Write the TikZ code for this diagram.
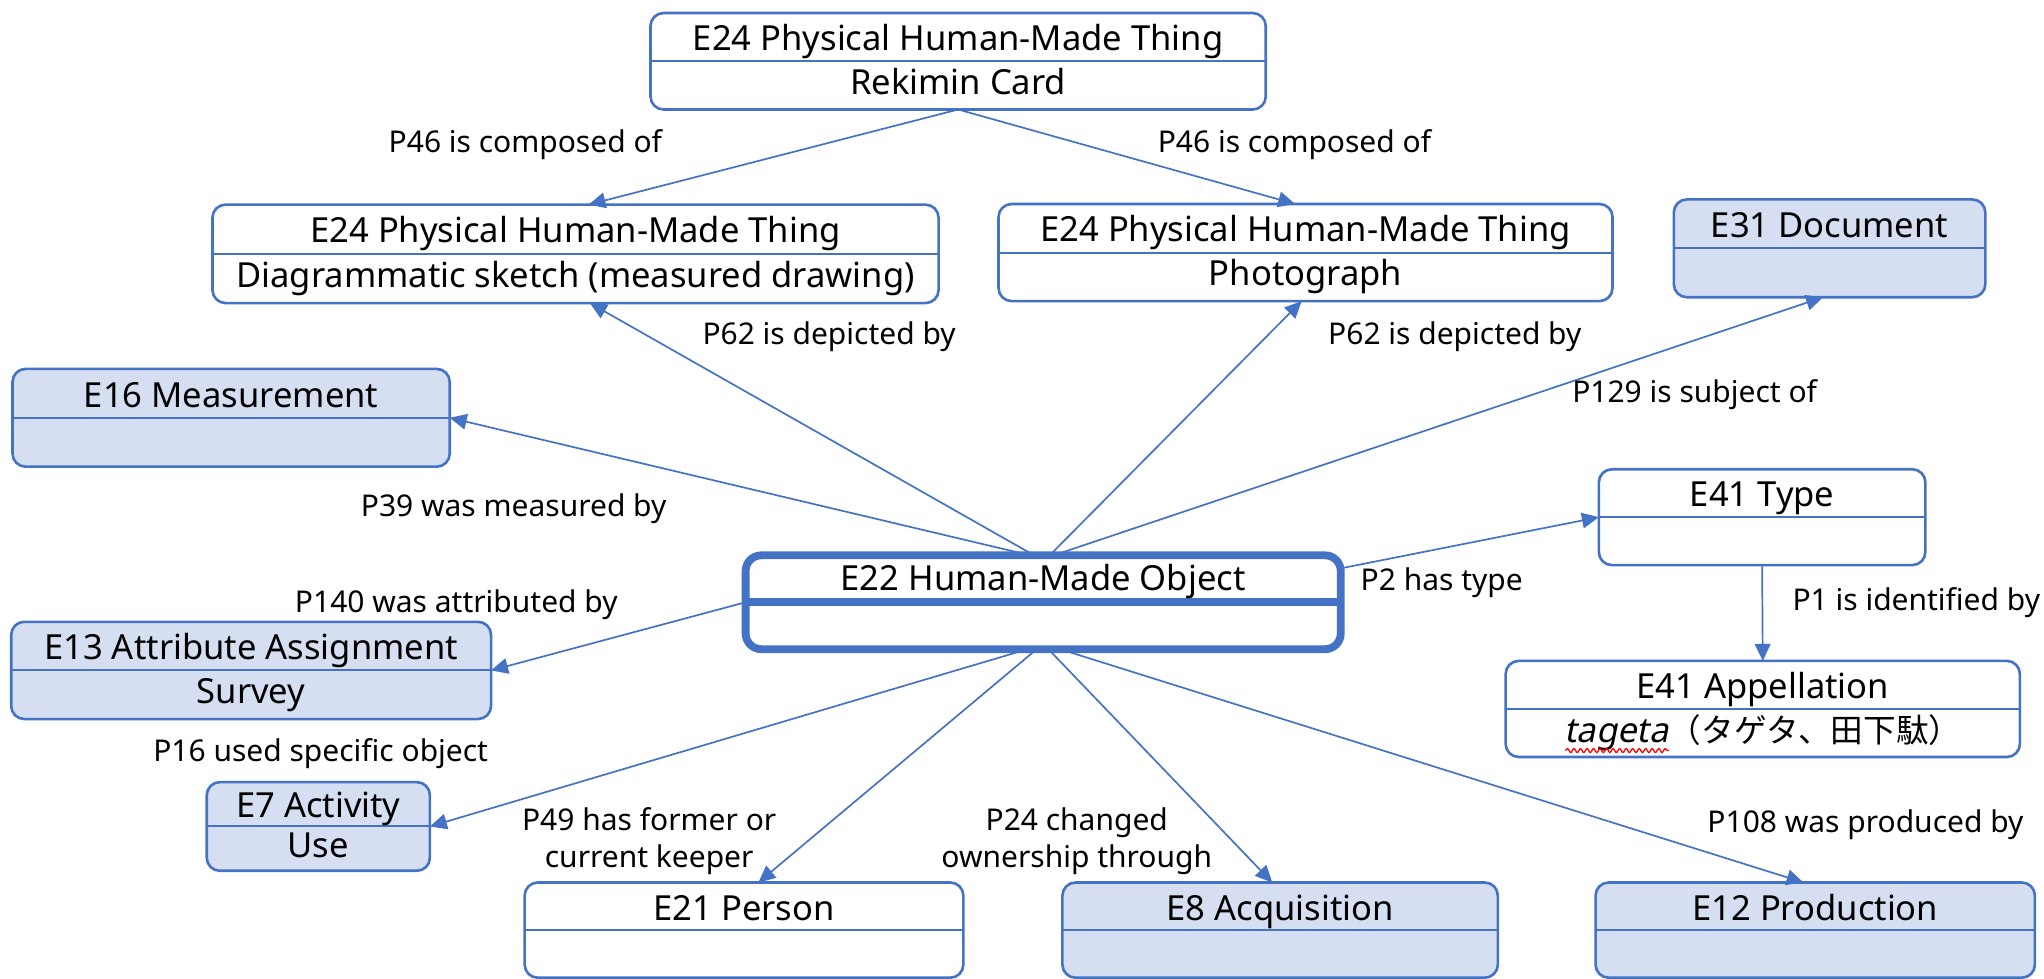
\documentclass[tikz,border=0pt]{standalone}
\usepackage{fontspec}
\setmainfont{Noto Sans}
\newfontfamily\jpfont{Noto Sans CJK JP}
\newfontfamily\itfont[FakeSlant=0.2]{Noto Sans}
\usetikzlibrary{arrows.meta,calc,fit,decorations.pathmorphing}
\definecolor{blu}{HTML}{4472C4}
\definecolor{lblu}{HTML}{D5DFF1}
\newcommand\crmbox[8]{%
  \node[#2, fit={(#3,#4) (#5,#6)}] (#1) {};
  \draw[divider] (#1.west) -- (#1.east);
  \node[ntxt] at ($(#1.north)!0.5!(#1.center)+(0,10.5)$) {#7};
  \node[ntxt] at ($(#1.south)!0.5!(#1.center)+(0,7)$) {#8};
}
\begin{document}
\begin{tikzpicture}[x=1pt,y=-1pt,
  box/.style={draw=blu, line width=2pt, rounded corners=10pt, fill=white, inner sep=0pt, outer sep=0pt},
  fillbox/.style={box, fill=lblu},
  mainbox/.style={box, line width=6pt, rounded corners=12pt},
  divider/.style={draw=blu, line width=1.5pt},
  ntxt/.style={font=\fontsize{26.5}{31}\selectfont, inner sep=0pt, anchor=base, text=black},
  ltxt/.style={font=\fontsize{23}{28.5}\selectfont, inner sep=0pt, align=center, text=black},
  arr/.style={draw=blu, line width=1.3pt, -{Triangle[length=13pt,width=12pt]}},
  squig/.style={draw=red, line width=1pt, decorate, decoration={snake, amplitude=1.5pt, segment length=5pt}},
]
\useasboundingbox (0,0) rectangle (1568,751);

% boxes
\crmbox{top}{box}{499}{10}{971}{84}{E24 Physical Human-Made Thing}{Rekimin Card}
\crmbox{sketch}{box}{163}{157}{720}{232.5}{E24 Physical Human-Made Thing}{Diagrammatic sketch (measured drawing)}
\crmbox{photo}{box}{766}{156.5}{1237}{231}{E24 Physical Human-Made Thing}{Photograph}
\crmbox{doc}{fillbox}{1284}{153}{1523}{228}{E31 Document}{}
\crmbox{meas}{fillbox}{9.6}{283}{345}{358}{E16 Measurement}{}
\crmbox{attr}{fillbox}{8.6}{477}{376.7}{551.6}{E13 Attribute Assignment}{Survey}
\crmbox{act}{fillbox}{158.6}{600}{329.8}{668}{E7 Activity}{Use}
\crmbox{type}{box}{1226.5}{360}{1477}{433.5}{E41 Type}{}
\crmbox{app}{box}{1155}{507}{1549.5}{580.7}{E41 Appellation}{}
\crmbox{pers}{box}{402.5}{677}{739}{750}{E21 Person}{}
\crmbox{acq}{fillbox}{815}{677}{1149}{750}{E8 Acquisition}{}
\crmbox{prod}{fillbox}{1224}{677}{1561}{750}{E12 Production}{}

% central object
\node[mainbox, fit={(572,426) (1028.5,498)}] (obj) {};
\draw[blu, line width=6pt] (obj.west) -- (obj.east);
\node[ntxt] at ($(obj.north)!0.5!(obj.center)+(0,9)$) {E22 Human-Made Object};

% appellation content
\node[ntxt] (apb) at ($(app.south)!0.5!(app.center)+(0,7.5)$) {\phantom{\itfont tageta}{\jpfont\fontsize{25}{28}\selectfont （タゲタ、田下駄）}};
\node[ntxt, anchor=base west] (tg) at (apb.base west) {\itfont tageta};
\draw[squig] ($(tg.base west)+(1,6)$) -- ($(tg.base east)+(0,6)$);

% connectors
\draw[arr] (top.south) -- ($(sketch.north)+(10,0)$);
\draw[arr] (top.south) -- ($(photo.north)+(-8,0)$);
\draw[arr] ($(obj.north)+(-7,0)$) -- ($(sketch.south)+(11,0)$);
\draw[arr] ($(obj.north)+(5,0)$) -- ($(photo.south)+(-3,0)$);
\draw[arr] ($(obj.north)+(8,0)$) -- ($(doc.south)+(-5,0)$);
\draw[arr] ($(obj.north)+(-10,0)$) -- (meas.east);
\draw[arr] ($(obj.east)+(0,-26)$) -- (type.west);
\draw[arr] (obj.west) -- (attr.east);
\draw[arr] ($(obj.south)+(-12,0)$) -- (act.east);
\draw[arr] ($(obj.south)+(-5,0)$) -- ($(pers.north)+(11,0)$);
\draw[arr] ($(obj.south)+(4,0)$) -- ($(acq.north)+(-6,0)$);
\draw[arr] ($(obj.south)+(13,0)$) -- ($(prod.north)+(-9,0)$);
\draw[arr] (type.south) -- (app.north);

% labels
\node[ltxt] (l1) at (403,111) {P46 is composed of};
\node[ltxt] (l2) at (993,111) {P46 is composed of};
\node[ltxt] (l3) at (636,258) {P62 is depicted by};
\node[ltxt] (l4) at (1116,258) {P62 is depicted by};
\node[ltxt] (l5) at (1300,303) {P129 is subject of};
\node[ltxt] (l6) at (394,390) {P39 was measured by};
\node[ltxt] (l7) at (1106,447) {P2 has type};
\node[ltxt] (l8) at (1470,462) {P1 is identified by};
\node[ltxt] (l9) at (350,464) {P140 was attributed by};
\node[ltxt] (l10) at (246,578) {P16 used specific object};
\node[ltxt] (l11) at (498,645) {P49 has former or\\current keeper};
\node[ltxt] (l12) at (826,645) {P24 changed\\ownership through};
\node[ltxt] (l13) at (1431,633) {P108 was produced by};
\end{tikzpicture}
\end{document}
